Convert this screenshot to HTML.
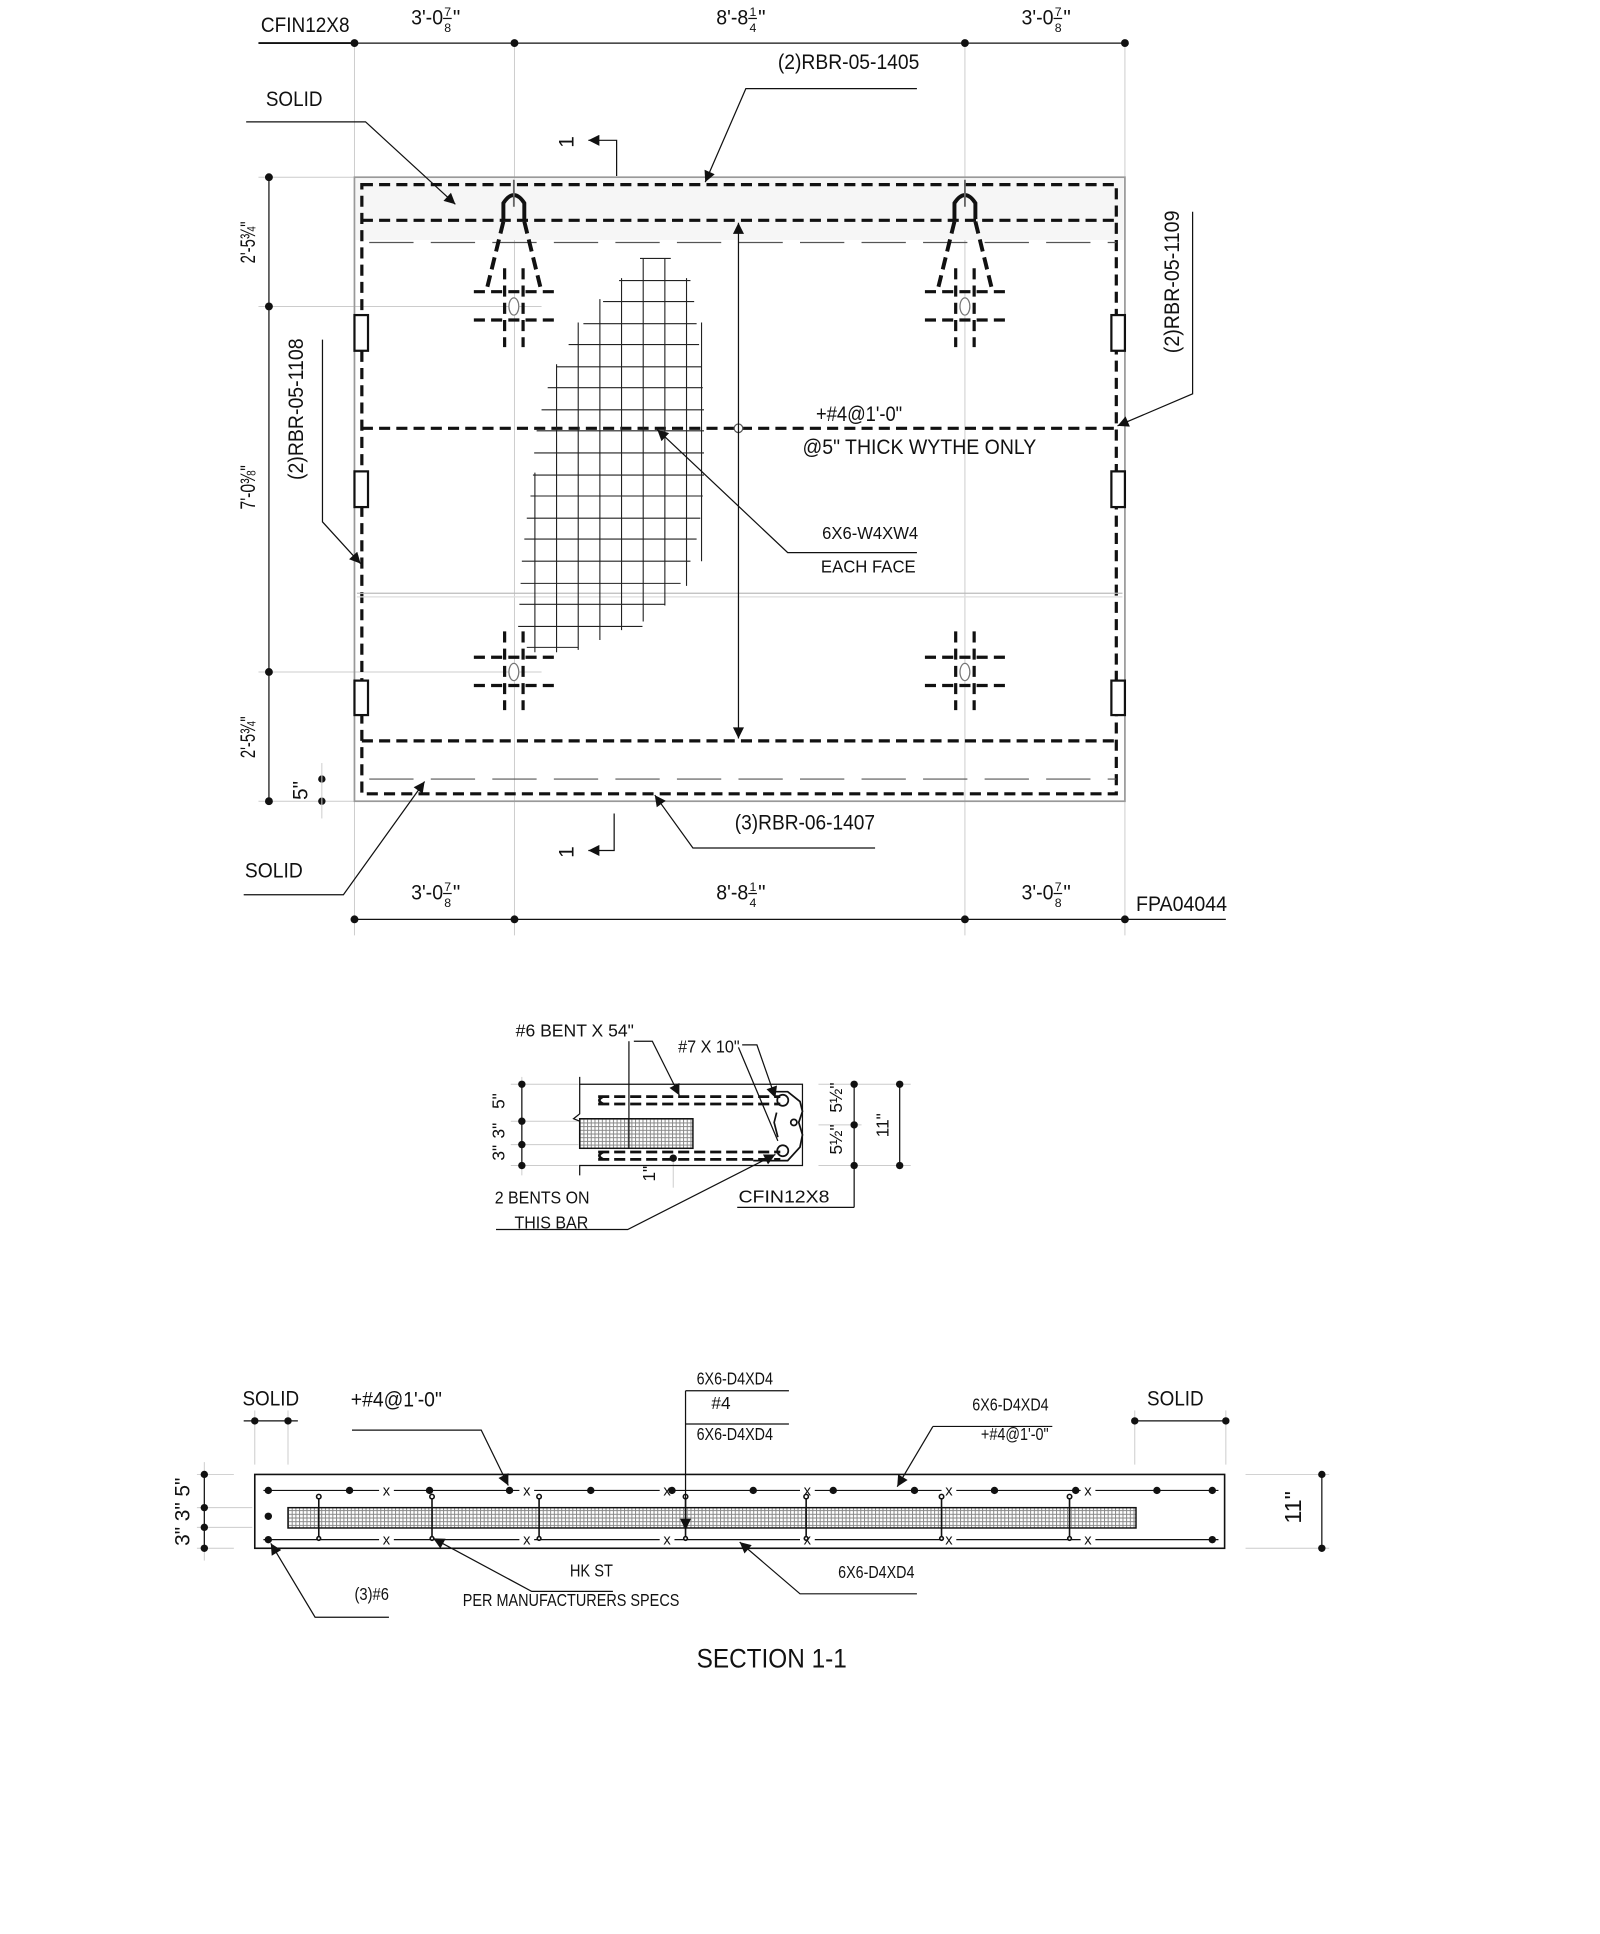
<!DOCTYPE html>
<html><head><meta charset="utf-8">
<style>
html,body{margin:0;padding:0;background:#fff;}
svg{display:block;}
text{font-family:"Liberation Sans",sans-serif;fill:#111;}
.t{font-size:17px;}
.s{font-size:14px;}
.ln{stroke:#111;stroke-width:1;fill:none;}
.gl{stroke:#ccc;stroke-width:0.8;fill:none;}
.dsh{stroke:#111;stroke-width:2.6;fill:none;stroke-dasharray:9 5;}
.ld{stroke:#555;stroke-width:1;fill:none;stroke-dasharray:36 14;}
.m{stroke:#222;stroke-width:0.9;}
</style></head><body>
<svg width="1600" height="1934" viewBox="0 0 1300 1571.4" xmlns="http://www.w3.org/2000/svg">
<defs>
<marker id="a" viewBox="0 0 10 10" refX="10" refY="5" markerWidth="14" markerHeight="9" markerUnits="userSpaceOnUse" orient="auto-start-reverse"><path d="M0,0 L10,5 L0,10 z" fill="#111"/></marker>
<pattern id="hatch" width="3" height="3" patternUnits="userSpaceOnUse"><rect width="3" height="3" fill="#fff"/><rect width="3" height="0.8" fill="#888"/><rect width="0.8" height="3" fill="#888"/></pattern>
</defs>

<!-- ============ PLAN ============ -->
<g class="gl">
<line x1="288" y1="35" x2="288" y2="760"/><line x1="418" y1="35" x2="418" y2="760"/>
<line x1="784" y1="35" x2="784" y2="760"/><line x1="914" y1="35" x2="914" y2="760"/>
<line x1="210" y1="144" x2="300" y2="144"/><line x1="210" y1="249" x2="440" y2="249"/>
<line x1="210" y1="546" x2="440" y2="546"/><line x1="210" y1="651" x2="300" y2="651"/>
</g>
<line class="ln" x1="210" y1="35" x2="914" y2="35"/>
<line x1="210" y1="35" x2="288" y2="35" stroke="#111" stroke-width="1.6"/>
<g fill="#111"><circle cx="288" cy="35" r="3.2"/><circle cx="418" cy="35" r="3.2"/><circle cx="784" cy="35" r="3.2"/><circle cx="914" cy="35" r="3.2"/></g>
<text class="t" x="212" y="26" textLength="72" lengthAdjust="spacingAndGlyphs">CFIN12X8</text>
<g class="t">
<text x="334" y="20" textLength="26" lengthAdjust="spacingAndGlyphs">3'-0</text><text x="361" y="13" font-size="10">7</text><text x="361" y="26" font-size="10">8</text><line x1="360" y1="15" x2="367" y2="15" stroke="#111"/><text x="368" y="20">"</text>
<text x="582" y="20" textLength="26" lengthAdjust="spacingAndGlyphs">8'-8</text><text x="609" y="13" font-size="10">1</text><text x="609" y="26" font-size="10">4</text><line x1="608" y1="15" x2="615" y2="15" stroke="#111"/><text x="616" y="20">"</text>
<text x="830" y="20" textLength="26" lengthAdjust="spacingAndGlyphs">3'-0</text><text x="857" y="13" font-size="10">7</text><text x="857" y="26" font-size="10">8</text><line x1="856" y1="15" x2="863" y2="15" stroke="#111"/><text x="864" y="20">"</text>
</g>

<line class="ln" x1="288" y1="747" x2="996" y2="747"/>
<g fill="#111"><circle cx="288" cy="747" r="3.2"/><circle cx="418" cy="747" r="3.2"/><circle cx="784" cy="747" r="3.2"/><circle cx="914" cy="747" r="3.2"/></g>
<g class="t">
<text x="334" y="731" textLength="26" lengthAdjust="spacingAndGlyphs">3'-0</text><text x="361" y="724" font-size="10">7</text><text x="361" y="737" font-size="10">8</text><line x1="360" y1="726" x2="367" y2="726" stroke="#111"/><text x="368" y="731">"</text>
<text x="582" y="731" textLength="26" lengthAdjust="spacingAndGlyphs">8'-8</text><text x="609" y="724" font-size="10">1</text><text x="609" y="737" font-size="10">4</text><line x1="608" y1="726" x2="615" y2="726" stroke="#111"/><text x="616" y="731">"</text>
<text x="830" y="731" textLength="26" lengthAdjust="spacingAndGlyphs">3'-0</text><text x="857" y="724" font-size="10">7</text><text x="857" y="737" font-size="10">8</text><line x1="856" y1="726" x2="863" y2="726" stroke="#111"/><text x="864" y="731">"</text>
</g>
<text class="t" x="923" y="740" textLength="74" lengthAdjust="spacingAndGlyphs">FPA04044</text>

<line class="ln" x1="218.5" y1="144" x2="218.5" y2="651"/>
<g fill="#111"><circle cx="218.5" cy="144" r="3.2"/><circle cx="218.5" cy="249" r="3.2"/><circle cx="218.5" cy="546" r="3.2"/><circle cx="218.5" cy="651" r="3.2"/>
<circle cx="261.5" cy="633" r="3"/><circle cx="261.5" cy="651" r="3"/></g>
<line class="gl" x1="261.5" y1="620" x2="261.5" y2="665"/>
<g class="t">
<text transform="translate(207,214) rotate(-90)" textLength="34" lengthAdjust="spacingAndGlyphs">2'-5¾"</text>
<text transform="translate(207,414) rotate(-90)" textLength="36" lengthAdjust="spacingAndGlyphs">7'-0⅜"</text>
<text transform="translate(207,616) rotate(-90)" textLength="34" lengthAdjust="spacingAndGlyphs">2'-5¾"</text>
<text transform="translate(250,650) rotate(-90)">5"</text>
</g>

<rect x="288" y="144" width="626" height="507" fill="none" stroke="#999" stroke-width="1.4"/>
<rect x="289" y="145" width="624" height="50" fill="#f6f6f6"/>
<rect x="294" y="150" width="613" height="495" class="dsh"/>
<line class="dsh" x1="294" y1="179" x2="907" y2="179"/>
<line class="dsh" x1="294" y1="348" x2="907" y2="348"/>
<line class="dsh" x1="294" y1="602" x2="907" y2="602"/>
<line class="ld" x1="300" y1="197" x2="907" y2="197"/>
<line class="ld" x1="300" y1="633" x2="907" y2="633"/>
<line x1="290" y1="482" x2="912" y2="482" stroke="#bbb" stroke-width="1"/>
<line x1="290" y1="485" x2="912" y2="485" stroke="#ddd" stroke-width="1"/>
<circle cx="600" cy="348" r="3.5" fill="#fff" stroke="#555"/>
<line class="ln" x1="600" y1="181" x2="600" y2="600" marker-start="url(#a)" marker-end="url(#a)"/>

<g fill="#fff" stroke="#111" stroke-width="1.8">
<rect x="288" y="256" width="11" height="29"/><rect x="288" y="383" width="11" height="29"/><rect x="288" y="553" width="11" height="28"/>
<rect x="903" y="256" width="11" height="29"/><rect x="903" y="383" width="11" height="29"/><rect x="903" y="553" width="11" height="28"/>
</g>

<g id="anc">
<path d="M409,178 L409,165 Q417.5,152 426,165 L426,178" fill="none" stroke="#111" stroke-width="3.2"/>
<line x1="417.5" y1="146" x2="417.5" y2="168" stroke="#666" stroke-width="1.5"/>
<path d="M409,180 L396,233" fill="none" stroke="#111" stroke-width="3.2" stroke-dasharray="10 5"/>
<path d="M426,180 L439,233" fill="none" stroke="#111" stroke-width="3.2" stroke-dasharray="10 5"/>
<g stroke="#111" stroke-width="2.6" stroke-dasharray="9 5">
<line x1="385" y1="237" x2="450" y2="237"/><line x1="385" y1="260" x2="450" y2="260"/>
<line x1="410" y1="218" x2="410" y2="282"/><line x1="425" y1="218" x2="425" y2="282"/>
<line x1="385" y1="534" x2="450" y2="534"/><line x1="385" y1="557" x2="450" y2="557"/>
<line x1="410" y1="513" x2="410" y2="577"/><line x1="425" y1="513" x2="425" y2="577"/>
</g>
<ellipse cx="417.5" cy="249" rx="4" ry="7" fill="#fff" stroke="#777"/>
<ellipse cx="417.5" cy="546" rx="4" ry="7" fill="#fff" stroke="#777"/>
</g>
<use href="#anc" transform="translate(366.5,0)"/>

<g class="m">
<line x1="520" y1="210" x2="545" y2="210"/>
<line x1="503" y1="228" x2="561" y2="228"/>
<line x1="490" y1="245" x2="564" y2="245"/>
<line x1="474" y1="263" x2="566" y2="263"/>
<line x1="462" y1="280" x2="568" y2="280"/>
<line x1="452" y1="298" x2="570" y2="298"/>
<line x1="445" y1="315" x2="571" y2="315"/>
<line x1="440" y1="333" x2="572" y2="333"/>
<line x1="436" y1="350" x2="572" y2="350"/>
<line x1="434" y1="368" x2="572" y2="368"/>
<line x1="433" y1="386" x2="572" y2="386"/>
<line x1="431" y1="403" x2="571" y2="403"/>
<line x1="428" y1="421" x2="569" y2="421"/>
<line x1="426" y1="438" x2="566" y2="438"/>
<line x1="424" y1="456" x2="561" y2="456"/>
<line x1="423" y1="474" x2="553" y2="474"/>
<line x1="422" y1="491" x2="540" y2="491"/>
<line x1="421" y1="509" x2="522" y2="509"/>
<line x1="428" y1="526" x2="470" y2="526"/>
<line x1="434.6" y1="384" x2="434.6" y2="530"/>
<line x1="452.2" y1="296" x2="452.2" y2="530"/>
<line x1="469.8" y1="262" x2="469.8" y2="528"/>
<line x1="487.4" y1="243" x2="487.4" y2="520"/>
<line x1="505" y1="226" x2="505" y2="512"/>
<line x1="522.6" y1="210" x2="522.6" y2="505"/>
<line x1="540.2" y1="210" x2="540.2" y2="492"/>
<line x1="557.8" y1="226" x2="557.8" y2="476"/>
<line x1="570" y1="262" x2="570" y2="456"/>
</g>

<text class="t" x="632" y="56" textLength="115" lengthAdjust="spacingAndGlyphs">(2)RBR-05-1405</text>
<polyline class="ln" points="745,72 606,72 573,148" marker-end="url(#a)"/>
<text class="t" x="216" y="86" textLength="46" lengthAdjust="spacingAndGlyphs">SOLID</text>
<polyline class="ln" points="200,99 297,99 370,166" marker-end="url(#a)"/>
<polyline class="ln" points="501,143 501,114 478,114" marker-end="url(#a)"/>
<text class="t" transform="translate(466,120) rotate(-90)">1</text>
<polyline class="ln" points="499,661 499,691 478,691" marker-end="url(#a)"/>
<text class="t" transform="translate(466,697) rotate(-90)">1</text>

<text class="t" x="663" y="342" textLength="70" lengthAdjust="spacingAndGlyphs">+#4@1'-0"</text>
<text class="t" x="652" y="369" textLength="190" lengthAdjust="spacingAndGlyphs">@5" THICK WYTHE ONLY</text>
<polyline class="ln" points="745,449 640,449 534,349" marker-end="url(#a)"/>
<text class="s" x="668" y="438" textLength="78" lengthAdjust="spacingAndGlyphs">6X6-W4XW4</text>
<text class="s" x="667" y="465" textLength="77" lengthAdjust="spacingAndGlyphs">EACH FACE</text>

<text class="t" transform="translate(958,287) rotate(-90)" textLength="116" lengthAdjust="spacingAndGlyphs">(2)RBR-05-1109</text>
<polyline class="ln" points="969,172 969,320 908,346" marker-end="url(#a)"/>
<text class="t" transform="translate(246,390) rotate(-90)" textLength="115" lengthAdjust="spacingAndGlyphs">(2)RBR-05-1108</text>
<polyline class="ln" points="262,276 262,424 293,458" marker-end="url(#a)"/>

<text class="t" x="597" y="674" textLength="114" lengthAdjust="spacingAndGlyphs">(3)RBR-06-1407</text>
<polyline class="ln" points="711,689 563,689 532,646" marker-end="url(#a)"/>
<text class="t" x="199" y="713" textLength="47" lengthAdjust="spacingAndGlyphs">SOLID</text>
<polyline class="ln" points="198,727 279,727 345,635" marker-end="url(#a)"/>

<!-- ============ DETAIL ============ -->
<g class="gl">
<line x1="415" y1="881" x2="470" y2="881"/><line x1="415" y1="911" x2="470" y2="911"/>
<line x1="415" y1="930" x2="470" y2="930"/><line x1="415" y1="947" x2="470" y2="947"/>
<line x1="424" y1="875" x2="424" y2="955"/>
<line x1="665" y1="881" x2="740" y2="881"/><line x1="665" y1="914" x2="700" y2="914"/><line x1="665" y1="947" x2="740" y2="947"/>
<line x1="547" y1="941" x2="547" y2="965"/>
</g>
<line class="ln" x1="424" y1="881" x2="424" y2="947"/>
<g fill="#111"><circle cx="424" cy="881" r="3"/><circle cx="424" cy="911" r="3"/><circle cx="424" cy="930" r="3"/><circle cx="424" cy="947" r="3"/>
<circle cx="694" cy="881" r="3"/><circle cx="694" cy="914" r="3"/><circle cx="694" cy="947" r="3"/>
<circle cx="731" cy="881" r="3"/><circle cx="731" cy="947" r="3"/><circle cx="547" cy="941" r="3"/></g>
<line class="ln" x1="694" y1="881" x2="694" y2="981"/>
<line class="ln" x1="731" y1="881" x2="731" y2="947"/>
<polyline class="ln" points="471,875 471,881 652,881 652,947 471,947 471,955" stroke-width="1.2"/>
<polyline class="ln" points="471,881 471,905 466,909 471,911"/>
<rect x="471" y="909" width="92" height="24" fill="url(#hatch)" stroke="#111" stroke-width="1.2"/>
<g stroke="#111" stroke-width="2.2" fill="none">
<path d="M486,891 L634,891" stroke-dasharray="9 4"/><path d="M486,897 L634,897" stroke-dasharray="9 4"/>
<path d="M490,891 Q484,894 490,897"/>
<path d="M486,936 L634,936" stroke-dasharray="9 4"/><path d="M486,942 L634,942" stroke-dasharray="9 4"/>
<path d="M490,936 Q484,939 490,942"/>
</g>
<g stroke="#111" stroke-width="1.4" fill="none">
<path d="M630,887 L640,887 L650,895 L652,903 L649,912 L652,922 L650,932 L640,943 L612,943"/>
<path d="M631,904 L629,912 L632,924"/>
<circle cx="636" cy="894" r="4.5"/><circle cx="636" cy="935" r="4.5"/>
<circle cx="645" cy="912" r="2.5"/>
</g>
<g class="s">
<text transform="translate(410,901) rotate(-90)">5"</text>
<text transform="translate(410,925) rotate(-90)">3"</text>
<text transform="translate(410,943) rotate(-90)">3"</text>
<text transform="translate(532,960) rotate(-90)">1"</text>
<text transform="translate(684,904) rotate(-90)">5½"</text>
<text transform="translate(684,938) rotate(-90)">5½"</text>
<text transform="translate(722,924) rotate(-90)">11"</text>
</g>
<text class="s" x="419" y="842" textLength="96" lengthAdjust="spacingAndGlyphs">#6 BENT  X 54"</text>
<line class="ln" x1="511" y1="846" x2="511" y2="933"/>
<polyline class="ln" points="515,846 530,846 552,890" marker-end="url(#a)"/>
<text class="s" x="551" y="855" textLength="50" lengthAdjust="spacingAndGlyphs">#7 X 10"</text>
<polyline class="ln" points="603,849 615,849 630,892" marker-end="url(#a)"/>
<line class="ln" x1="600" y1="851" x2="632" y2="927"/>
<text class="s" x="402" y="978" textLength="77" lengthAdjust="spacingAndGlyphs">2 BENTS ON</text>
<text class="s" x="418" y="998" textLength="60" lengthAdjust="spacingAndGlyphs">THIS BAR</text>
<polyline class="ln" points="403,999 510,999 630,938" marker-end="url(#a)"/>
<text class="s" x="600" y="977" textLength="74" lengthAdjust="spacingAndGlyphs">CFIN12X8</text>
<line class="ln" x1="599" y1="981" x2="694" y2="981"/>

<!-- ============ SECTION 1-1 ============ -->
<g class="gl">
<line x1="207" y1="1146" x2="207" y2="1190"/><line x1="234" y1="1146" x2="234" y2="1190"/>
<line x1="922" y1="1146" x2="922" y2="1190"/><line x1="996" y1="1146" x2="996" y2="1190"/>
<line x1="160" y1="1198" x2="190" y2="1198"/><line x1="160" y1="1225" x2="205" y2="1225"/><line x1="160" y1="1241" x2="205" y2="1241"/><line x1="160" y1="1258" x2="190" y2="1258"/>
<line x1="166" y1="1188" x2="166" y2="1268"/>
<line x1="1012" y1="1198" x2="1080" y2="1198"/><line x1="1012" y1="1258" x2="1080" y2="1258"/>
</g>
<line class="ln" x1="198" y1="1154.5" x2="242" y2="1154.5"/>
<line class="ln" x1="922" y1="1154.5" x2="996" y2="1154.5"/>
<line class="ln" x1="166" y1="1198" x2="166" y2="1258"/>
<line class="ln" x1="1074" y1="1198" x2="1074" y2="1258"/>
<g fill="#111">
<circle cx="207" cy="1154.5" r="3"/><circle cx="234" cy="1154.5" r="3"/><circle cx="922" cy="1154.5" r="3"/><circle cx="996" cy="1154.5" r="3"/>
<circle cx="166" cy="1198" r="3"/><circle cx="166" cy="1225" r="3"/><circle cx="166" cy="1241" r="3"/><circle cx="166" cy="1258" r="3"/>
<circle cx="1074" cy="1198" r="3"/><circle cx="1074" cy="1258" r="3"/>
</g>
<rect x="207" y="1198" width="788" height="60" fill="#fff" stroke="#111" stroke-width="1.3"/>
<rect x="234" y="1225" width="689" height="16.5" fill="url(#hatch)" stroke="#111" stroke-width="1.2"/>
<line class="ln" x1="214" y1="1211" x2="990" y2="1211"/>
<line class="ln" x1="214" y1="1251" x2="990" y2="1251"/>
<g font-size="12" text-anchor="middle">
<g fill="#fff"><rect x="308" y="1205" width="12" height="12"/><rect x="422" y="1205" width="12" height="12"/><rect x="536" y="1205" width="12" height="12"/><rect x="650" y="1205" width="12" height="12"/><rect x="765" y="1205" width="12" height="12"/><rect x="878" y="1205" width="12" height="12"/>
<rect x="308" y="1245" width="12" height="12"/><rect x="422" y="1245" width="12" height="12"/><rect x="536" y="1245" width="12" height="12"/><rect x="650" y="1245" width="12" height="12"/><rect x="765" y="1245" width="12" height="12"/><rect x="878" y="1245" width="12" height="12"/></g>
<text x="314" y="1215">x</text><text x="428" y="1215">x</text><text x="542" y="1215">x</text><text x="656" y="1215">x</text><text x="771" y="1215">x</text><text x="884" y="1215">x</text>
<text x="314" y="1255">x</text><text x="428" y="1255">x</text><text x="542" y="1255">x</text><text x="656" y="1255">x</text><text x="771" y="1255">x</text><text x="884" y="1255">x</text>
</g>
<g fill="#111">
<circle cx="218" cy="1211" r="3"/><circle cx="284" cy="1211" r="3"/><circle cx="349" cy="1211" r="3"/><circle cx="414" cy="1211" r="3"/><circle cx="480" cy="1211" r="3"/><circle cx="546" cy="1211" r="3"/>
<circle cx="612" cy="1211" r="3"/><circle cx="677" cy="1211" r="3"/><circle cx="743" cy="1211" r="3"/><circle cx="808" cy="1211" r="3"/><circle cx="874" cy="1211" r="3"/><circle cx="940" cy="1211" r="3"/><circle cx="985" cy="1211" r="3"/>
<circle cx="218" cy="1232" r="3"/><circle cx="218" cy="1251" r="3"/><circle cx="985" cy="1251" r="3"/>
</g>
<g stroke="#111" stroke-width="1.3" fill="#fff">
<g id="hk"><line x1="259" y1="1217" x2="259" y2="1250"/><circle cx="259" cy="1216" r="1.8"/><circle cx="259" cy="1250" r="1.5"/></g>
<use href="#hk" transform="translate(92,0)"/><use href="#hk" transform="translate(179,0)"/><use href="#hk" transform="translate(298,0)"/>
<use href="#hk" transform="translate(396,0)"/><use href="#hk" transform="translate(506,0)"/><use href="#hk" transform="translate(610,0)"/>
</g>
<text class="t" x="197" y="1142" textLength="46" lengthAdjust="spacingAndGlyphs">SOLID</text>
<text class="t" x="932" y="1142" textLength="46" lengthAdjust="spacingAndGlyphs">SOLID</text>
<text class="t" x="285" y="1143" textLength="74" lengthAdjust="spacingAndGlyphs">+#4@1'-0"</text>
<polyline class="ln" points="286,1162 391,1162 413,1207" marker-end="url(#a)"/>
<text class="s" x="566" y="1125" textLength="62" lengthAdjust="spacingAndGlyphs">6X6-D4XD4</text>
<line class="ln" x1="557" y1="1130" x2="641" y2="1130"/>
<text class="s" x="578" y="1145">#4</text>
<line class="ln" x1="557" y1="1157" x2="641" y2="1157"/>
<text class="s" x="566" y="1170" textLength="62" lengthAdjust="spacingAndGlyphs">6X6-D4XD4</text>
<line class="ln" x1="557" y1="1130" x2="557" y2="1243" marker-end="url(#a)"/>
<text class="s" x="790" y="1146" textLength="62" lengthAdjust="spacingAndGlyphs">6X6-D4XD4</text>
<line class="ln" x1="758" y1="1159" x2="855" y2="1159"/>
<text class="s" x="797" y="1170" textLength="55" lengthAdjust="spacingAndGlyphs">+#4@1'-0"</text>
<line class="ln" x1="758" y1="1159" x2="729" y2="1208" marker-end="url(#a)"/>
<text class="s" x="681" y="1282" textLength="62" lengthAdjust="spacingAndGlyphs">6X6-D4XD4</text>
<polyline class="ln" points="745,1295 650,1295 601,1253" marker-end="url(#a)"/>
<text class="s" x="463" y="1281" textLength="35" lengthAdjust="spacingAndGlyphs">HK ST</text>
<text class="s" x="376" y="1305" textLength="176" lengthAdjust="spacingAndGlyphs">PER MANUFACTURERS SPECS</text>
<polyline class="ln" points="498,1293 432,1293 352,1250" marker-end="url(#a)"/>
<text class="s" x="288" y="1300" textLength="28" lengthAdjust="spacingAndGlyphs">(3)#6</text>
<polyline class="ln" points="316,1314 256,1314 220,1254" marker-end="url(#a)"/>
<g class="t">
<text transform="translate(154,1216) rotate(-90)">5"</text>
<text transform="translate(154,1236) rotate(-90)">3"</text>
<text transform="translate(154,1256) rotate(-90)">3"</text>
<text transform="translate(1057,1238) rotate(-90)" font-size="19">11"</text>
</g>
<text x="566" y="1355" font-size="22" textLength="122" lengthAdjust="spacingAndGlyphs">SECTION 1-1</text>
</svg>
</body></html>
